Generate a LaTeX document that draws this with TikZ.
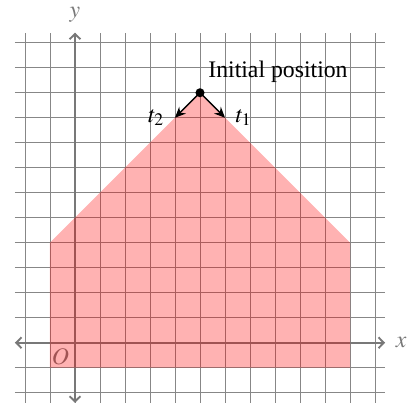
\documentclass[tikz,border=0pt]{standalone}
\usepackage{mathptmx}
\usepackage{fontspec}
\setmainfont{Liberation Serif}
\usepackage{xcolor}
\usetikzlibrary{positioning,arrows.meta}
\definecolor{axgray}{RGB}{120,120,120}
\definecolor{gridgray}{RGB}{135,135,135}

\begin{document}
\begin{tikzpicture}[scale=0.37, every node/.style={font=\normalsize}]
  \tikzset{
    axis/.style={axgray, line width=0.8pt, {Straight Barb[length=2.2pt,width=4.6pt]}-{Straight Barb[length=2.2pt,width=4.6pt]}},
    move/.style={black, line width=0.6pt, -{Stealth[length=4.5pt,width=4pt]}},
    region/.style={fill=red, fill opacity=0.3}
  }
  \useasboundingbox (-3,-2.42) rectangle (13.56,13.71);

  % --- grid and axes ---
  \draw[gridgray, line width=0.4pt, step=1] (-2.4,-2.4) grid (12.4,12.4);
  \coordinate (xl) at (-2.4,0); \coordinate (xr) at (12.4,0);
  \coordinate (yb) at (0,-2.4); \coordinate (yt) at (0,12.4);
  \draw[axis] (xl) -- (xr);
  \draw[axis] (yb) -- (yt);
  \node[axgray, right=1pt of xr] (xlab) {$x$};
  \node[axgray, above=1pt of yt] (ylab) {$y$};
  \node[axgray, below left=-1pt and -1pt] (O) at (0,0) {$O$};

  % --- reachable region ---
  \fill[region] (-1,-1) -- (11,-1) -- (11,4) -- (5,10) -- (-1,4) -- cycle;

  % --- initial position and the two moves ---
  \node[circle, fill=black, inner sep=0pt, minimum size=3.8pt] (init) at (5,10) {};
  \node[anchor=south west] (initlab) at ([yshift=1.5pt]init.center) {Initial position};
  \coordinate (T1) at (6,9);
  \coordinate (T2) at (4,9);
  \draw[move] (init.center) -- (T1);
  \draw[move] (init.center) -- (T2);
  \node[right=1pt of T1] (t1lab) {$t_1$};
  \node[left=1pt of T2] (t2lab) {$t_2$};
\end{tikzpicture}
\end{document}
